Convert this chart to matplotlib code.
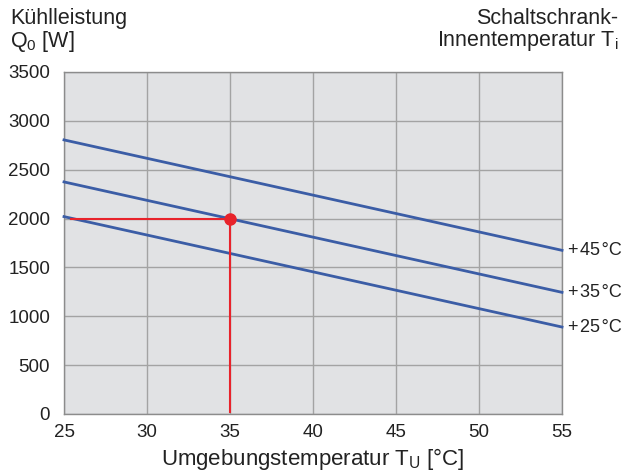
import matplotlib
matplotlib.use("Agg")
import matplotlib.pyplot as plt

plt.rcParams['font.family'] = ['Liberation Sans', 'DejaVu Sans']
plt.rcParams['mathtext.fontset'] = 'custom'
plt.rcParams['mathtext.rm'] = 'Liberation Sans'
plt.rcParams['mathtext.it'] = 'Liberation Sans'

# Data
x_range = [25, 55]
curve_labels = ["+\u200a45\u200a°C", "+\u200a35\u200a°C", "+\u200a25\u200a°C"]
curve_start = [2805, 2375, 2020]
curve_end = [1675, 1245, 890]
op_x = 35
op_y = 2000
x_ticks = [25, 30, 35, 40, 45, 50, 55]
y_ticks = [0, 500, 1000, 1500, 2000, 2500, 3000, 3500]

blue = '#3b5da6'
red = '#e8232b'
txt = '#222222'

fig = plt.figure(figsize=(6.25, 4.74), dpi=100)
ax = fig.add_axes([64/625, 1-414/474, (562-64)/625, (414-72)/474])
ax.set_facecolor('#e1e2e4')
ax.set_xlim(25, 55)
ax.set_ylim(0, 3500)
ax.set_xticks(x_ticks)
ax.set_yticks(y_ticks)
ax.grid(True, color='#a3a3a3', linewidth=1.0)
ax.set_axisbelow(True)
for s in ax.spines.values():
    s.set_color('#8c8c8c')
    s.set_linewidth(1.0)
ax.tick_params(length=0, labelsize=13.5, colors=txt)
ax.tick_params(axis='x', pad=7)
ax.tick_params(axis='y', pad=10)

for lab, y0, y1 in zip(curve_labels, curve_start, curve_end):
    ax.plot(x_range, [y0, y1], color=blue, linewidth=2.0, clip_on=False, zorder=3)
    ax.annotate(lab, xy=(55, y1), xytext=(4, 0), textcoords='offset points',
                va='center', ha='left', fontsize=13, color=txt,
                annotation_clip=False)

ax.plot([25.4, op_x], [op_y, op_y], color=red, linewidth=1.5, zorder=4)
ax.plot([op_x, op_x], [20, op_y], color=red, linewidth=1.5, zorder=4)
ax.plot([op_x], [op_y], 'o', color=red, markersize=8, zorder=5)

ax.set_xlabel("Umgebungstemperatur T$_\\mathrm{U}$ [°C]", fontsize=16, color=txt, labelpad=4)

fig.text(10/625, 1-8/474, "Kühlleistung\nQ$_0$ [W]", ha='left', va='top', fontsize=15.5,
         color=txt, linespacing=1.0)
fig.text(618/625, 1-8/474, "Schaltschrank-\nInnentemperatur T$_\\mathrm{i}$", ha='right', va='top',
         fontsize=15.5, color=txt, linespacing=1.0, multialignment='right')

fig.savefig("out.png", dpi=100, facecolor='white')
